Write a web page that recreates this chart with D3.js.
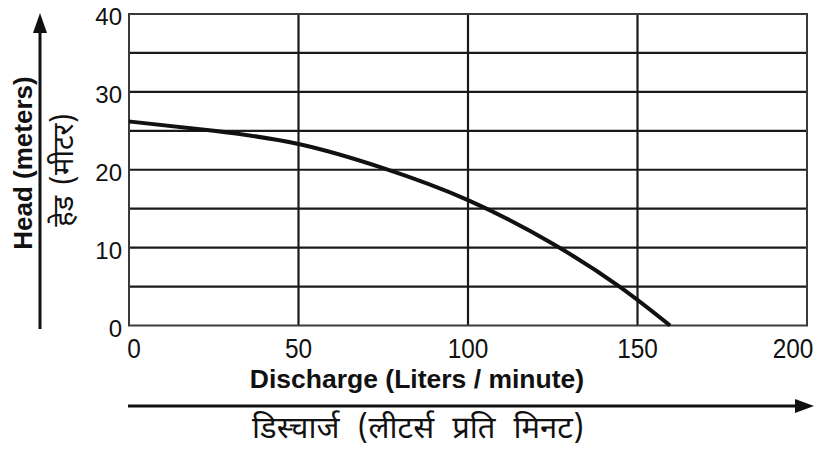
<!DOCTYPE html>
<html>
<head>
<meta charset="utf-8">
<script src="https://cdn.jsdelivr.net/npm/d3@7"></script>
<style>
  html, body { margin: 0; padding: 0; background: #fff; }
  svg { display: block; }
  text { fill: #111; }
</style>
</head>
<body>
<svg id="chart" width="825" height="451"></svg>
<script>
// Pump performance curve: head vs. discharge
const discharge = [0, 25, 50, 75, 100, 125, 145, 159.6];
const head      = [26.2, 25.0, 23.3, 20.2, 16.1, 10.5, 4.9, 0];

const xTicks = [0, 50, 100, 150, 200];
const yTicks = [0, 10, 20, 30, 40];
const yGrid  = [5, 10, 15, 20, 25, 30, 35];

const xTitle   = "Discharge (Liters / minute)";
const xTitleHi = "डिस्चार्ज (लीटर्स प्रति मिनट)";
const yTitle   = "Head (meters)";
const yTitleHi = "हेड (मीटर)";

const svg = d3.select("#chart");
const plot = { left: 129, right: 807, top: 14, bottom: 325.5 };

const x = d3.scaleLinear().domain([0, 200]).range([plot.left, plot.right]);
const y = d3.scaleLinear().domain([0, 40]).range([plot.bottom, plot.top]);

const devFont = "'Noto Sans Devanagari', 'Lohit Devanagari', 'Mangal', 'Noto Sans', sans-serif";
const latFont = "'Liberation Sans', Arial, sans-serif";

// grid
const grid = svg.append("g").attr("stroke", "#1a1a1a").attr("stroke-width", 2.2);
grid.selectAll("line.h").data(yGrid).join("line")
  .attr("x1", plot.left).attr("x2", plot.right)
  .attr("y1", d => y(d)).attr("y2", d => y(d));
grid.selectAll("line.v").data(xTicks.slice(1, -1)).join("line")
  .attr("y1", plot.top).attr("y2", plot.bottom)
  .attr("x1", d => x(d)).attr("x2", d => x(d));

// frame
svg.append("rect")
  .attr("x", plot.left).attr("y", plot.top)
  .attr("width", plot.right - plot.left).attr("height", plot.bottom - plot.top)
  .attr("fill", "none").attr("stroke", "#3a3a3a").attr("stroke-width", 2);

// y tick labels
svg.append("g").selectAll("text").data(yTicks).join("text")
  .attr("x", plot.left - 7).attr("y", d => y(d) + 11)
  .attr("text-anchor", "end")
  .attr("font-family", latFont).attr("font-size", 24)
  .text(d => d);

// x tick labels (slightly condensed)
const xShift = d => d === 0 ? 5 : (d === 200 ? -14 : 0);
svg.append("g").selectAll("text").data(xTicks).join("text")
  .attr("transform", d => `translate(${x(d) + xShift(d)},358) scale(0.87,1)`)
  .attr("text-anchor", "middle")
  .attr("font-family", latFont).attr("font-size", 28)
  .text(d => d);

// curve
const pts = discharge.map((d, i) => [d, head[i]]);
svg.append("path")
  .datum(pts)
  .attr("fill", "none").attr("stroke", "#111").attr("stroke-width", 4)
  .attr("stroke-linecap", "butt")
  .attr("d", d3.line().x(d => x(d[0])).y(d => y(d[1])).curve(d3.curveNatural));

// x titles
svg.append("text")
  .attr("x", 417).attr("y", 388)
  .attr("text-anchor", "middle")
  .attr("font-family", latFont).attr("font-size", 26.5).attr("font-weight", "bold")
  .text(xTitle);

svg.append("text")
  .attr("x", 418).attr("y", 438)
  .attr("text-anchor", "middle")
  .attr("font-family", devFont).attr("font-size", 31)
  .attr("word-spacing", 10)
  .text(xTitleHi);

// y titles
svg.append("text")
  .attr("transform", "translate(32,163) rotate(-90)")
  .attr("text-anchor", "middle")
  .attr("font-family", latFont).attr("font-size", 26).attr("font-weight", "bold")
  .text(yTitle);

svg.append("text")
  .attr("transform", "translate(73,170) rotate(-90)")
  .attr("text-anchor", "middle")
  .attr("font-family", devFont).attr("font-size", 29)
  .attr("word-spacing", 3)
  .text(yTitleHi);

// arrows
svg.append("line")
  .attr("x1", 40).attr("y1", 329).attr("x2", 40).attr("y2", 30)
  .attr("stroke", "#111").attr("stroke-width", 3);
svg.append("path")
  .attr("d", "M40,13 L47,33 L33,33 Z").attr("fill", "#111");

svg.append("line")
  .attr("x1", 128).attr("y1", 406).attr("x2", 798).attr("y2", 406)
  .attr("stroke", "#111").attr("stroke-width", 3);
svg.append("path")
  .attr("d", "M814,406 L795,399 L795,413 Z").attr("fill", "#111");
</script>
</body>
</html>
